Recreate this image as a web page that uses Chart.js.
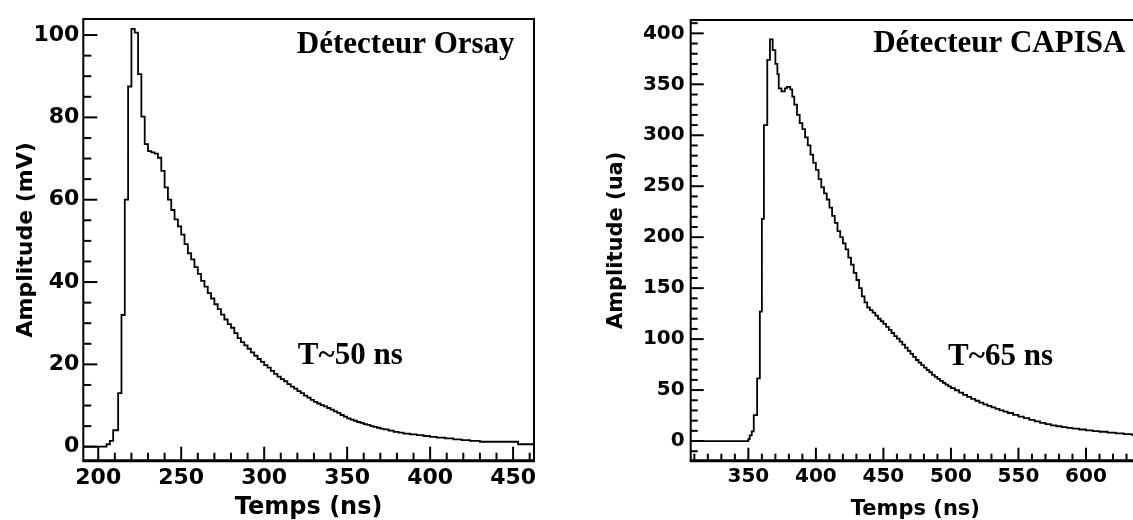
<!DOCTYPE html>
<html>
<head>
<meta charset="utf-8">
<title>Détecteurs Orsay / CAPISA</title>
<style>
    html, body { margin: 0; padding: 0; background: #fff; overflow: hidden; }
    #cadre { position: relative; width: 1133px; height: 520px; overflow: hidden; }
    #chartOrsay { position: absolute; left: 0; top: 0; }
    #chartCapisa { position: absolute; left: 560px; top: 0; }
</style>
<script src="https://cdn.jsdelivr.net/npm/chart.js"></script>
</head>
<body>
<div id="cadre">
    <canvas id="chartOrsay" width="560" height="524"></canvas>
    <canvas id="chartCapisa" width="600" height="524"></canvas>
</div>
<script>
//! Les données.

//? Détecteur Orsay : début de chaque marche (ns) et amplitude (mV).
const tempsOrsay = [
    191, 205, 207, 209, 212, 214, 216, 218, 220, 222, 224, 226, 228, 230, 232, 234,
    236, 238, 240, 242, 244, 246, 248, 250, 252, 254, 256, 258, 260, 262, 264, 266,
    268, 270, 272, 274, 276, 278, 280, 282, 284, 286, 288, 290, 292, 294, 296, 298,
    300, 302, 304, 306, 308, 310, 312, 314, 316, 318, 320, 322, 324, 326, 328, 330,
    332, 334, 336, 338, 340, 342, 344, 346, 348, 350, 352, 354, 356, 358, 360, 362,
    364, 366, 368, 370, 372, 375, 378, 381, 384, 388, 392, 396, 400, 404, 409, 414,
    419, 424, 430, 453, 462.6
];
const amplitudeOrsay = [
    0, 0.6, 1.4, 4, 13, 32, 60, 87.5, 101.5, 100.6, 90.5, 80.2, 73.5, 71.8, 71.5, 71.2,
    70.2, 67, 63, 60, 57.5, 55.2, 53.5, 51.5, 49.2, 47, 45.5, 43.6, 42, 40.3, 38.9, 37.3,
    36, 34.6, 33.4, 32.1, 30.9, 29.8, 28.9, 27.6, 26.4, 25.4, 24.6, 23.8, 22.9, 22.1, 21.3, 20.6,
    19.8, 19.2, 18.4, 17.7, 17, 16.4, 15.9, 15.2, 14.6, 14.1, 13.5, 13, 12.4, 11.9, 11.4, 10.9,
    10.5, 10.1, 9.8, 9.4, 9, 8.6, 8.2, 7.7, 7.3, 6.9, 6.6, 6.3, 6, 5.8, 5.5, 5.3,
    5, 4.8, 4.6, 4.4, 4.2, 3.9, 3.6, 3.4, 3.2, 3, 2.8, 2.6, 2.4, 2.2, 2, 1.8,
    1.6, 1.4, 1.2, 0.6, 0.6
];
const ticksXOrsay = [200, 250, 300, 350, 400, 450];
const ticksYOrsay = [0, 20, 40, 60, 80, 100];

//? Détecteur CAPISA : début de chaque marche (ns) et amplitude (ua).
const tempsCapisa = [
    307, 350, 351, 352.5, 354, 356.5, 358.5, 360, 361.5, 364, 366, 368, 370, 371.5, 372.5, 374.5,
    377, 378.5, 381, 382.5, 384, 386, 388, 390, 392, 394, 396, 398, 400, 402, 404, 406,
    408, 410, 412, 414, 416, 418, 420, 422, 424, 426, 428, 430, 432, 434, 436, 438,
    440, 442, 444, 446, 448, 450, 452, 454, 456, 458, 460, 462, 464, 466, 468, 470,
    472, 474, 476, 478, 480, 482, 484, 486, 488, 490, 492, 494, 496, 498, 500, 503,
    506, 509, 512, 515, 518, 521, 524, 527, 530, 533, 536, 539, 542, 546, 550, 554,
    558, 562, 566, 570, 574, 578, 582, 586, 590, 595, 600, 605, 610, 616, 622, 628,
    634, 640
];
const amplitudeCapisa = [
    0, 2, 5.5, 9.5, 25.5, 61.5, 127, 218, 310, 374, 394, 383.5, 370, 360, 346, 343,
    346, 347.5, 345, 338, 330, 320, 312, 306, 298, 290, 281, 273, 266, 257, 249, 243,
    237, 229, 221, 214, 206, 200, 194, 188, 180, 173, 165, 158, 150, 142, 136, 131,
    128.5, 126, 123, 120, 117.5, 115, 112, 109, 106, 103, 100.5, 97.5, 94.5, 91.5, 88.5, 85.5,
    82.5, 79.5, 77, 74.5, 72, 69.5, 67.5, 65, 63, 61, 59, 57, 55.3, 53.6, 52, 49.8,
    47.5, 45.3, 43.4, 41.4, 39.5, 37.6, 36, 34.4, 33, 31.5, 30, 28.8, 27.5, 25.6, 24, 22.4,
    20.8, 19.3, 17.8, 16.5, 15.4, 14.5, 13.6, 12.9, 12.2, 11.3, 10.5, 9.7, 9.1, 8.3, 7.6, 6.8,
    6, 5.5
];
const ticksXCapisa = [350, 400, 450, 500, 550, 600];
const ticksYCapisa = [0, 50, 100, 150, 200, 250, 300, 350, 400];

//! --------------------------------------------------

//? Cadre, graduations vers l'intérieur et textes (style ROOT).

const cadreRoot = {
    id: 'cadreRoot',
    afterDraw(chart, args, opts) {
        const ctx = chart.ctx;
        const { left, right, top, bottom } = chart.chartArea;
        const sx = chart.scales.x;
        const sy = chart.scales.y;

        ctx.save();
        ctx.strokeStyle = '#000';
        ctx.lineCap = 'butt';

        // cadre
        ctx.lineWidth = 2;
        ctx.beginPath();
        ctx.moveTo(left, bottom);
        ctx.lineTo(left, top);
        ctx.lineTo(right, top);
        ctx.lineTo(right, bottom);
        ctx.stroke();

        ctx.lineWidth = 3;
        ctx.beginPath();
        ctx.moveTo(left - 1, bottom);
        ctx.lineTo(right + 1, bottom);
        ctx.stroke();

        // graduations X
        ctx.lineWidth = 2;
        for (let v = Math.ceil(sx.min / opts.pasX) * opts.pasX; v <= sx.max; v += opts.pasX) {
            const px = sx.getPixelForValue(v);
            const len = v % opts.majeurX === 0 ? opts.longMajeur : opts.longMineur;
            ctx.beginPath();
            ctx.moveTo(px, bottom);
            ctx.lineTo(px, bottom - len);
            ctx.stroke();
        }

        // graduations Y
        for (let v = Math.ceil(sy.min / opts.pasY) * opts.pasY; v <= sy.max; v += opts.pasY) {
            const py = sy.getPixelForValue(v);
            const len = v % opts.majeurY === 0 ? opts.longMajeur : opts.longMineur;
            ctx.beginPath();
            ctx.moveTo(left, py);
            ctx.lineTo(left + len, py);
            ctx.stroke();
        }

        // textes
        ctx.fillStyle = '#000';
        ctx.font = 'bold 31px "Liberation Serif"';
        ctx.textAlign = 'left';
        ctx.textBaseline = 'alphabetic';
        opts.textes.forEach((t) => {
            ctx.fillText(t.texte, sx.getPixelForValue(t.x), sy.getPixelForValue(t.y));
        });

        ctx.restore();
    }
};

//? Construction d'un graphique.

const HAUTEUR = 524;

const construireGraphique = (id, temps, amplitude, reglages) => {

    const ctx = document.getElementById(id).getContext('2d');

    const points = temps.map((t, i) => ({ x: t, y: amplitude[i] }));

    const policeTicks = { family: 'DejaVu Sans', weight: 'bold', size: reglages.tailleTicks };

    return new Chart(ctx, {
        type: 'line',
        data: {
            datasets: [
                {
                    data: points,
                    borderColor: '#000',
                    borderWidth: 1.8,
                    stepped: 'before',
                    pointRadius: 0,
                    fill: false,
                },
            ],
        },
        options: {
            responsive: false,
            animation: false,
            devicePixelRatio: 1,
            layout: {
                padding: { top: reglages.haut, right: reglages.droite, left: 0, bottom: 0 },
            },
            scales: {
                x: {
                    type: 'linear',
                    min: reglages.xMin,
                    max: reglages.xMax,
                    grid: { display: false, drawTicks: false },
                    border: { display: false },
                    afterBuildTicks: (scale) => {
                        scale.ticks = reglages.ticksX.map((v) => ({ value: v }));
                    },
                    afterFit: (scale) => {
                        scale.height = HAUTEUR - 460.7;
                    },
                    ticks: {
                        font: policeTicks,
                        color: '#000',
                        padding: 4,
                        autoSkip: false,
                        maxRotation: 0,
                        includeBounds: false,
                    },
                    title: {
                        display: true,
                        text: 'Temps (ns)',
                        color: '#000',
                        font: { family: 'DejaVu Sans', weight: 'bold', size: reglages.tailleTitreX },
                        padding: { top: 0, bottom: 2 },
                    },
                },
                y: {
                    type: 'linear',
                    min: reglages.yMin,
                    max: reglages.yMax,
                    grid: { display: false, drawTicks: false },
                    border: { display: false },
                    afterBuildTicks: (scale) => {
                        scale.ticks = reglages.ticksY.map((v) => ({ value: v }));
                    },
                    afterFit: (scale) => {
                        scale.width = reglages.gauche;
                    },
                    ticks: {
                        font: policeTicks,
                        color: '#000',
                        padding: reglages.paddingY,
                        autoSkip: false,
                        includeBounds: false,
                    },
                    title: {
                        display: true,
                        text: reglages.titreY,
                        color: '#000',
                        font: { family: 'DejaVu Sans', weight: 'bold', size: reglages.tailleTitreY },
                        padding: { top: reglages.paddingTitreY, bottom: 0 },
                    },
                },
            },
            plugins: {
                legend: { display: false },
                tooltip: { enabled: false },
                cadreRoot: reglages.cadre,
            },
        },
        plugins: [cadreRoot],
    });
};

//! --------------------------------------------------

//? Graphique Orsay.

construireGraphique('chartOrsay', tempsOrsay, amplitudeOrsay, {
    xMin: 191, xMax: 462.6, yMin: -3.4, yMax: 103.9,
    ticksX: ticksXOrsay, ticksY: ticksYOrsay,
    haut: 19, droite: 26, gauche: 83.3,
    tailleTicks: 22, paddingY: 4,
    tailleTitreX: 24, tailleTitreY: 22, paddingTitreY: 13,
    titreY: 'Amplitude (mV)',
    cadre: {
        pasX: 10, majeurX: 50, pasY: 5, majeurY: 20,
        longMajeur: 14, longMineur: 8,
        textes: [
            { texte: 'Détecteur Orsay', x: 319.7, y: 95.6 },
            { texte: 'T~50 ns', x: 320.3, y: 20.1 },
        ],
    },
});

//? Graphique CAPISA.

construireGraphique('chartCapisa', tempsCapisa, amplitudeCapisa, {
    xMin: 307.3, xMax: 640, yMin: -19.3, yMax: 413.1,
    ticksX: ticksXCapisa, ticksY: ticksYCapisa,
    haut: 20, droite: 20, gauche: 130.7,
    tailleTicks: 20, paddingY: 6,
    tailleTitreX: 21, tailleTitreY: 21, paddingTitreY: 44,
    titreY: 'Amplitude (ua)',
    cadre: {
        pasX: 10, majeurX: 50, pasY: 10, majeurY: 50,
        longMajeur: 13, longMineur: 7,
        textes: [
            { texte: 'Détecteur CAPISA', x: 442.4, y: 381.7 },
            { texte: 'T~65 ns', x: 497.9, y: 74.6 },
        ],
    },
});
</script>
</body>
</html>
